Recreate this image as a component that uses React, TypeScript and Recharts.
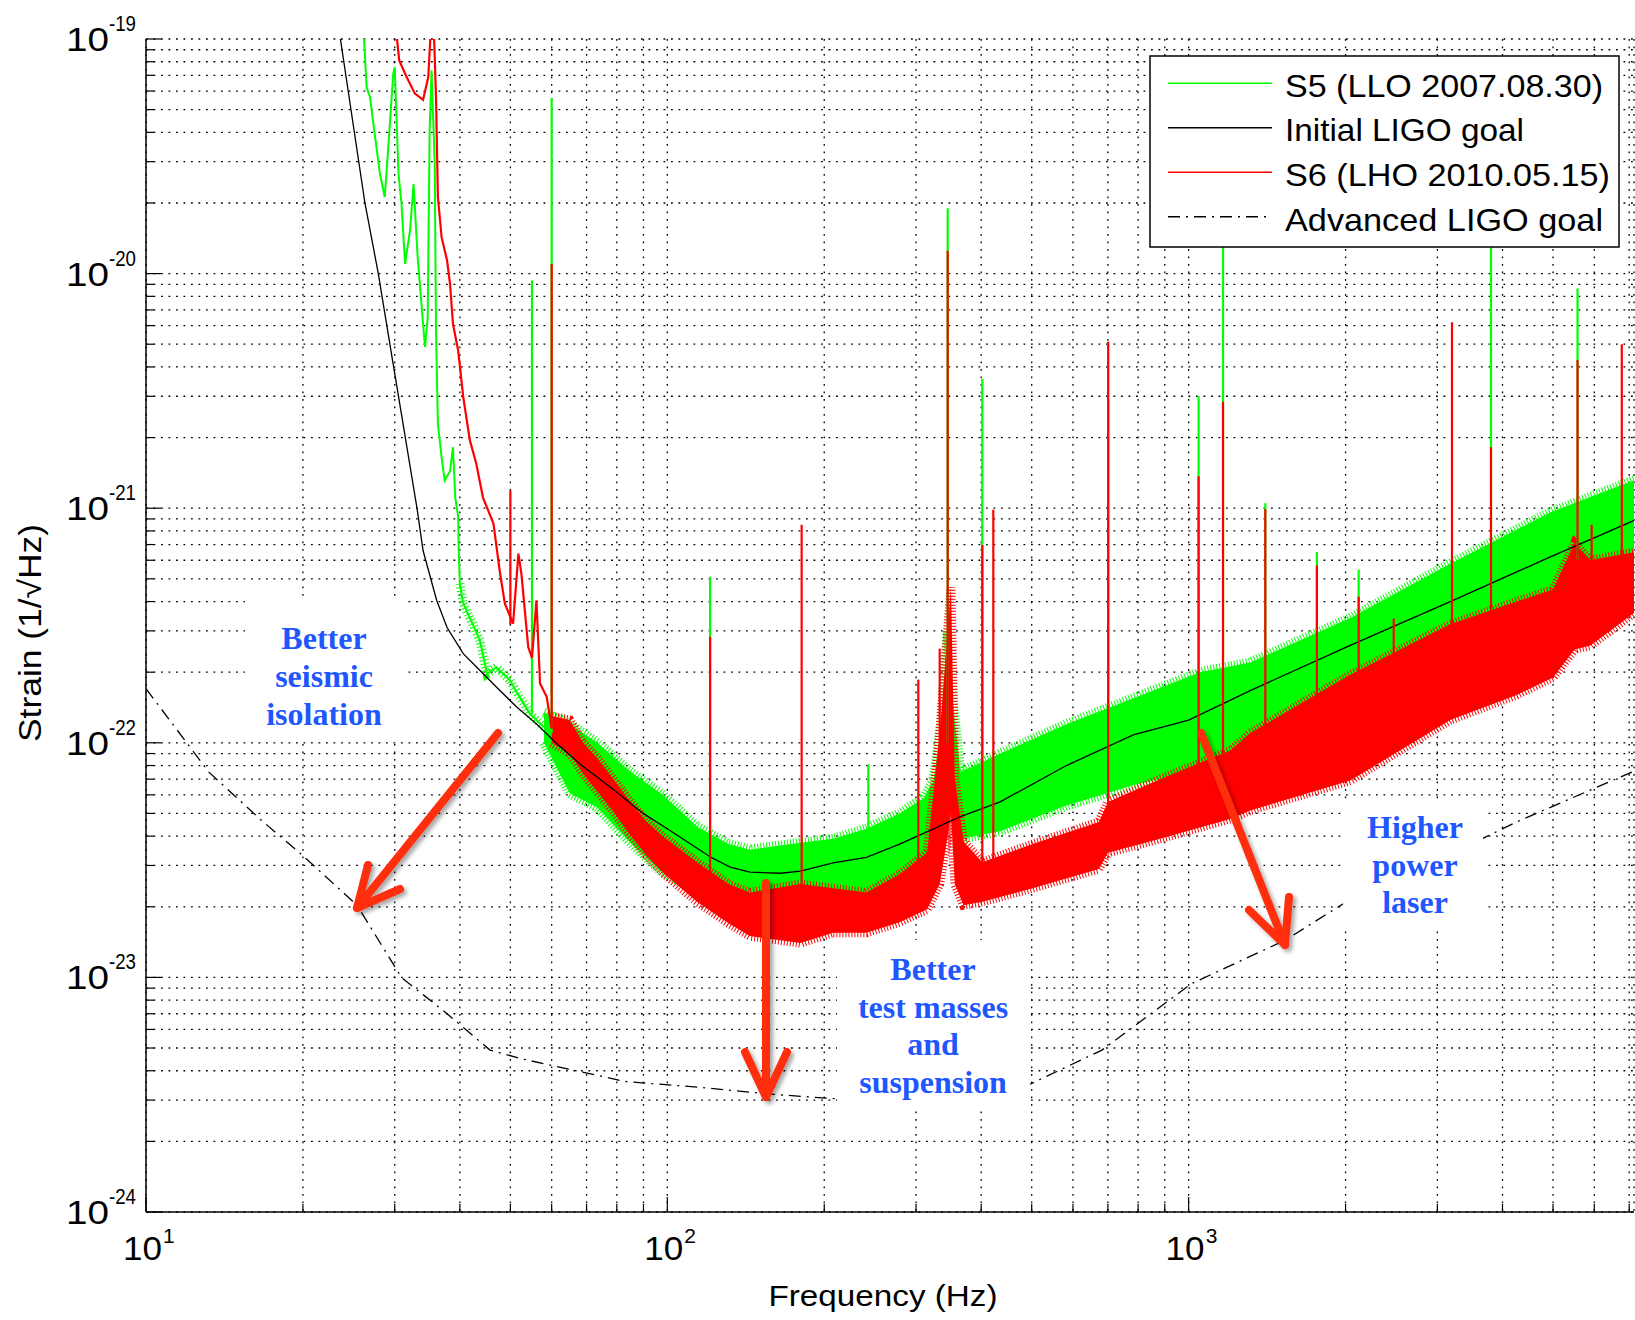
import React from 'react';
import { ComposedChart, Line, Area, XAxis, YAxis, CartesianGrid } from 'recharts';

// axis ticks (major + minor, all get a dotted grid line)
const X_TICKS = [
  10, 20, 30, 40, 50, 60, 70, 80, 90,
  100, 200, 300, 400, 500, 600, 700, 800, 900,
  1000, 2000, 3000, 4000, 5000, 6000, 7000,
];
const Y_TICKS = [
  1e-24, 2e-24, 3e-24, 4e-24, 5e-24, 6e-24, 7e-24, 8e-24, 9e-24,
  1e-23, 2e-23, 3e-23, 4e-23, 5e-23, 6e-23, 7e-23, 8e-23, 9e-23,
  1e-22, 2e-22, 3e-22, 4e-22, 5e-22, 6e-22, 7e-22, 8e-22, 9e-22,
  1e-21, 2e-21, 3e-21, 4e-21, 5e-21, 6e-21, 7e-21, 8e-21, 9e-21,
  1e-20, 2e-20, 3e-20, 4e-20, 5e-20, 6e-20, 7e-20, 8e-20, 9e-20,
  1e-19,
];

// S5 (LLO) - thin low-frequency part [Hz, strain]
const S5_LOW: [number, number][] = [
  [26.2, 1.0e-19], [26.5, 6.2e-20], [26.9, 5.65e-20], [27.3, 4.35e-20], [28.1, 2.67e-20],
  [28.7, 2.12e-20], [29.1, 3.24e-20], [29.8, 7.1e-20], [30.0, 7.6e-20], [30.5, 2.67e-20],
  [30.9, 2.0e-20], [31.4, 1.1e-20], [32.1, 1.53e-20], [32.6, 2.41e-20], [33.2, 1.17e-20],
  [34.0, 6.1e-21], [34.3, 4.86e-21], [34.7, 6.5e-21], [35.0, 4.07e-20], [35.3, 7.35e-20],
  [35.8, 2.94e-20], [36.0, 5.73e-21], [36.3, 2.29e-21], [36.9, 1.65e-21], [37.4, 1.31e-21],
  [38.3, 1.44e-21], [38.8, 1.82e-21], [39.2, 1.11e-21], [39.7, 9.2e-22], [39.8, 6.6e-22],
  [40.0, 4.77e-22], [40.6, 3.93e-22], [42.3, 3.22e-22], [43.7, 2.73e-22], [45.1, 1.97e-22],
  [47.0, 2.1e-22], [49.9, 1.85e-22], [51.6, 1.62e-22], [54.5, 1.33e-22], [57.9, 1.17e-22],
];
// S5 noise band [Hz, low, high]
const S5_BAND: [number, number, number][] = [
  [58, 1.0e-22, 1.35e-22], [65, 6.1e-23, 1.2e-22], [73.4, 5.3e-23, 1.0e-22], [84.5, 3.8e-23, 7.6e-23],
  [98, 2.8e-23, 6.0e-23], [114, 2.35e-23, 4.4e-23], [131, 2.3e-23, 3.7e-23], [144, 2.3e-23, 3.5e-23],
  [180, 2.2e-23, 3.75e-23], [208, 2.1e-23, 3.9e-23], [241, 2.2e-23, 4.3e-23], [279, 2.4e-23, 5.0e-23],
  [310, 2.8e-23, 5.8e-23], [324, 3.3e-23, 6.9e-23], [335, 5.0e-23, 1.2e-22], [345, 8.0e-23, 3.0e-22],
  [353, 6.0e-23, 1.5e-22], [365, 3.9e-23, 7.5e-23], [435, 4.2e-23, 9.0e-23], [583, 5.4e-23, 1.2e-22],
  [783, 6.6e-23, 1.55e-22], [1052, 7.7e-23, 2.0e-22], [1313, 9.9e-23, 2.2e-22], [2042, 1.23e-22, 3.4e-22],
  [3176, 1.92e-22, 5.8e-22], [4942, 2.96e-22, 9.6e-22], [7180, 4.03e-22, 1.32e-21],
];
// S5 lines [Hz, base, peak]
const S5_LINES: [number, number, number][] = [
  [55, 1.33e-22, 9.35e-21], [60, 1.1e-22, 5.6e-20], [120.8, 3.5e-23, 5.1e-22], [243, 3.5e-23, 8.1e-23],
  [345, 1.0e-22, 1.9e-20], [402, 6e-23, 3.55e-21], [701, 9e-23, 2.9e-21], [1045, 1.4e-22, 3.0e-21],
  [1164, 1.5e-22, 1.3e-20], [1403, 1.7e-22, 1.05e-21], [1762, 2.2e-22, 6.5e-22], [2119, 2.6e-22, 5.47e-22],
  [3802, 4.5e-22, 1.3e-20], [5572, 6e-22, 8.65e-21],
];

// S6 (LHO) - thin low-frequency part
const S6_LOW: [number, number][] = [
  [30.3, 1e-19], [30.6, 8.1e-20], [31.6, 6.9e-20], [32.8, 5.85e-20], [34.0, 5.5e-20],
  [34.8, 6.9e-20], [35.1, 1e-19], [35.7, 1e-19], [36.0, 5.65e-20], [36.3, 2.12e-20],
  [36.9, 1.43e-20], [37.8, 1.14e-20], [38.3, 9.05e-21], [38.8, 6.1e-21], [39.7, 4.7e-21],
  [40.6, 2.98e-21], [41.8, 1.95e-21], [43.0, 1.55e-21], [44.3, 1.11e-21], [46.4, 8.6e-22],
  [47.7, 5.4e-22], [48.8, 3.92e-22], [50.6, 3.22e-22], [51.8, 6.4e-22], [52.5, 5.25e-22],
  [54.1, 2.56e-22], [55, 2.3e-22], [56.1, 4.05e-22], [57.0, 1.79e-22], [58.7, 1.57e-22],
  [60, 1.15e-22],
];
const S6_BAND: [number, number, number][] = [
  [60, 1.0e-22, 1.3e-22], [65, 9.0e-23, 1.25e-22], [68.9, 7.4e-23, 1.0e-22], [73.4, 6.2e-23, 8.6e-23],
  [78.8, 5.1e-23, 7.0e-23], [84.5, 4.1e-23, 5.7e-23], [91.3, 3.3e-23, 4.6e-23], [98, 2.8e-23, 4.0e-23],
  [114, 2.1e-23, 3.1e-23], [131, 1.7e-23, 2.5e-23], [144, 1.5e-23, 2.3e-23], [180, 1.4e-23, 2.5e-23],
  [208, 1.55e-23, 2.4e-23], [241, 1.55e-23, 2.3e-23], [279, 1.72e-23, 2.75e-23], [315, 1.95e-23, 3.4e-23],
  [333, 2.5e-23, 1.08e-22], [345, 4.0e-23, 3.0e-22], [350, 5.0e-23, 4.6e-22], [356, 2.5e-23, 7.1e-23],
  [370, 2.03e-23, 3.8e-23], [402, 2.1e-23, 3.1e-23], [502, 2.4e-23, 3.7e-23], [673, 2.9e-23, 4.6e-23],
  [700, 3.4e-23, 5.6e-23], [882, 3.9e-23, 7.0e-23], [1205, 4.75e-23, 9.3e-23], [1313, 5.15e-23, 1.1e-22],
  [2042, 6.9e-23, 1.95e-22], [3176, 1.25e-22, 3.2e-22], [4258, 1.6e-22, 4.0e-22], [5000, 1.9e-22, 4.5e-22],
  [5500, 2.5e-22, 7.1e-22], [5900, 2.6e-22, 6.0e-22], [7180, 3.6e-22, 6.5e-22],
];
const S6_LINES: [number, number, number][] = [
  [50, 3.2e-22, 1.19e-21], [60, 1.15e-22, 1.1e-20], [120.8, 2.6e-23, 2.83e-22], [181, 2.0e-23, 8.5e-22],
  [303, 2.5e-23, 1.86e-22], [333, 5e-23, 2.52e-22], [345, 5e-23, 1.25e-20], [402, 2.8e-23, 6.97e-22],
  [422, 2.8e-23, 9.85e-22], [701, 4.5e-23, 5.12e-21], [1045, 6e-23, 1.37e-21], [1164, 7e-23, 2.84e-21],
  [1403, 8e-23, 9.9e-22], [1762, 1e-22, 5.7e-22], [2119, 1.2e-22, 4.2e-22], [2474, 1.4e-22, 3.38e-22],
  [3200, 2e-22, 6.2e-21], [3802, 2.2e-22, 1.82e-21], [5572, 3.5e-22, 4.28e-21], [5930, 3.5e-22, 8.5e-22],
  [6775, 3.5e-22, 5.0e-21],
];

const INITIAL_GOAL: [number, number][] = [
  [23.6, 1e-19], [26.3, 2e-20], [27.9, 1e-20], [29.8, 4.1e-21], [33.1, 1e-21], [34.0, 6.6e-22],
  [36.1, 4.05e-22], [37.8, 3.1e-22], [40.6, 2.4e-22], [43.1, 2.1e-22], [47, 1.73e-22], [51.4, 1.42e-22],
  [56.2, 1.2e-22], [61.4, 9.9e-23], [69, 7.9e-23], [77.6, 6.5e-23], [89.9, 5.0e-23], [101, 4.24e-23],
  [121, 3.26e-23], [132, 2.95e-23], [144, 2.81e-23], [165, 2.78e-23], [180, 2.84e-23], [208, 3.08e-23],
  [241, 3.25e-23], [279, 3.7e-23], [324, 4.3e-23], [365, 4.85e-23], [435, 5.6e-23], [583, 8.0e-23],
  [783, 1.08e-22], [1000, 1.25e-22], [1313, 1.67e-22], [2042, 2.6e-22], [3176, 4.0e-22],
  [4942, 6.2e-22], [7180, 8.9e-22],
];

const ADVANCED_GOAL: [number, number][] = [
  [10, 1.7e-22], [13.2, 7.5e-23], [16.6, 4.7e-23], [20, 3.3e-23], [25.4, 2.03e-23], [30.9, 1e-23],
  [37.8, 7e-24], [45.7, 4.9e-24], [52.5, 4.5e-24], [83, 3.6e-24], [115.6, 3.4e-24], [155, 3.19e-24],
  [209, 3.04e-24], [498, 3.52e-24], [682, 4.9e-24], [1012, 9.4e-24], [1531, 1.44e-23], [1980, 2.06e-23],
  [3707, 3.96e-23], [4257, 4.6e-23], [7180, 7.6e-23],
];

const LEGEND = [
  { label: 'S5 (LLO 2007.08.30)', color: '#00ff00', dash: undefined, width: 318 },
  { label: 'Initial LIGO goal', color: '#000000', dash: undefined, width: 239 },
  { label: 'S6 (LHO 2010.05.15)', color: '#ff0000', dash: undefined, width: 325 },
  { label: 'Advanced LIGO goal', color: '#000000', dash: '12 6 2 6', width: 318 },
];

const GREEN = '#00ff00';
const RED = '#ff0000';
const SANS = 'Liberation Sans, Arial, Helvetica, sans-serif';
const SERIF = 'Liberation Serif, Times New Roman, serif';
const NOTE = '#1f57ff';
const ARROW = '#ff2d0a';

const pts = (rows: [number, number][]) => rows.map(([f, h]) => ({ f, h }));
const band = (rows: [number, number, number][]) => rows.map(([f, lo, hi]) => ({ f, band: [lo, hi] }));

const isMajor = (v: number) => Math.abs(Math.log10(v) - Math.round(Math.log10(v))) < 1e-6;
const expOf = (v: number) => Math.round(Math.log10(v));

const BottomTick = (props: any) => {
  const { x, y, payload } = props;
  const major = isMajor(payload.value);
  return (
    <g>
      <line x1={x} y1={y} x2={x} y2={y - (major ? 15 : 8)} stroke="#000" strokeWidth={1.2} />
      {major && (
        <>
          <text x={x + 16} y={y + 48} textAnchor="end" fontFamily={SANS} fontSize={33} textLength={39} lengthAdjust="spacingAndGlyphs" fill="#000">10</text>
          <text x={x + 17} y={y + 31} fontFamily={SANS} fontSize={21} fill="#000">{expOf(payload.value)}</text>
        </>
      )}
    </g>
  );
};

const TopTick = (props: any) => {
  const { x, y, payload } = props;
  const major = isMajor(payload.value);
  return <line x1={x} y1={y} x2={x} y2={y + (major ? 15 : 8)} stroke="#000" strokeWidth={1.2} />;
};

const LeftTick = (props: any) => {
  const { x, y, payload } = props;
  const major = isMajor(payload.value);
  return (
    <g>
      <line x1={x} y1={y} x2={x + (major ? 15 : 8)} y2={y} stroke="#000" strokeWidth={1.2} />
      {major && (
        <>
          <text x={x - 37} y={y + 12} textAnchor="end" fontFamily={SANS} fontSize={34} textLength={43} lengthAdjust="spacingAndGlyphs" fill="#000">10</text>
          <text x={x - 37} y={y - 8} fontFamily={SANS} fontSize={22} textLength={27} lengthAdjust="spacingAndGlyphs" fill="#000">{expOf(payload.value)}</text>
        </>
      )}
    </g>
  );
};

const RightTick = (props: any) => {
  const { x, y, payload } = props;
  const major = isMajor(payload.value);
  return <line x1={x} y1={y} x2={x - (major ? 15 : 8)} y2={y} stroke="#000" strokeWidth={1.2} />;
};

const Arrow = ({ from, to, wings }: { from: number[]; to: number[]; wings: number[][] }) => (
  <g stroke={ARROW} strokeWidth={8} strokeLinecap="round" fill="none" filter="url(#shadow)">
    <line x1={from[0]} y1={from[1]} x2={to[0]} y2={to[1]} />
    <polyline points={`${wings[0][0]},${wings[0][1]} ${to[0]},${to[1]} ${wings[1][0]},${wings[1][1]}`} strokeLinejoin="round" />
  </g>
);

const Note = ({ x, lines, y0, step }: { x: number; lines: string[]; y0: number; step: number }) => (
  <text fontFamily={SERIF} fontWeight="bold" fontSize={32} fill={NOTE} textAnchor="middle">
    {lines.map((l, i) => (
      <tspan key={l} x={x} y={y0 + i * step}>{l}</tspan>
    ))}
  </text>
);

export default function App() {
  const s5Noisy = pts(S5_LOW.filter(([f]) => f >= 40));
  return (
    <div style={{ position: 'absolute', left: 0, top: 0, width: 1635, height: 1320, overflow: 'hidden', background: '#fff' }}>
      <ComposedChart width={1635} height={1320} margin={{ top: 39, right: 1, bottom: 0, left: 0 }}>
        <CartesianGrid stroke="#000" strokeWidth={1.3} strokeDasharray="1.8 5.7" />
        <XAxis dataKey="f" type="number" scale="log" domain={[10, 7150]} allowDataOverflow ticks={X_TICKS} interval={0}
          tickSize={0} tickMargin={0} height={108} tickLine={false} tick={<BottomTick />} axisLine={{ stroke: '#000', strokeWidth: 1.5 }} />
        <XAxis xAxisId="top" orientation="top" dataKey="f" type="number" scale="log" domain={[10, 7150]} allowDataOverflow
          ticks={X_TICKS} interval={0} tickSize={0} tickMargin={0} height={0} tickLine={false} tick={<TopTick />} axisLine={{ stroke: '#000', strokeWidth: 1.5 }} />
        <YAxis type="number" scale="log" domain={[1e-24, 1e-19]} allowDataOverflow ticks={Y_TICKS} interval={0}
          tickSize={0} tickMargin={0} width={146} tickLine={false} tick={<LeftTick />} axisLine={{ stroke: '#000', strokeWidth: 1.5 }} />
        <YAxis yAxisId="right" orientation="right" type="number" scale="log" domain={[1e-24, 1e-19]} allowDataOverflow ticks={Y_TICKS}
          interval={0} tickSize={0} tickMargin={0} width={0} tickLine={false} tick={<RightTick />} axisLine={{ stroke: '#000', strokeWidth: 1.5 }} />

        {/* noisy band edges: short dashes on a wide stroke give the whiskers */}
        <Area data={band(S5_BAND)} dataKey="band" type="linear" stroke={GREEN} strokeWidth={10} strokeDasharray="1 2"
          fill={GREEN} fillOpacity={1} isAnimationActive={false} />
        <Line data={pts(S5_LOW)} dataKey="h" type="linear" stroke={GREEN} strokeWidth={2} dot={false} isAnimationActive={false} />
        <Line data={s5Noisy} dataKey="h" type="linear" stroke={GREEN} strokeWidth={9} strokeDasharray="1 2.5" dot={false} isAnimationActive={false} />
        {S5_LINES.map(([f, base, peak]) => (
          <Line key={`g${f}`} data={[{ f, h: base }, { f, h: peak }]} dataKey="h" stroke={GREEN} strokeWidth={2.2} dot={false} isAnimationActive={false} />
        ))}
        <Line data={pts(INITIAL_GOAL)} dataKey="h" type="linear" stroke="#000" strokeWidth={1.3} dot={false} isAnimationActive={false} />
        <Area data={band(S6_BAND)} dataKey="band" type="linear" stroke={RED} strokeWidth={9} strokeDasharray="1 2"
          fill={RED} fillOpacity={1} isAnimationActive={false} />
        <Line data={pts(S6_LOW)} dataKey="h" type="linear" stroke={RED} strokeWidth={2.2} dot={false} isAnimationActive={false} />
        {S6_LINES.map(([f, base, peak]) => (
          <Line key={`r${f}`} data={[{ f, h: base }, { f, h: peak }]} dataKey="h" stroke={RED} strokeWidth={2.2} dot={false} isAnimationActive={false} />
        ))}
        <Line data={pts(ADVANCED_GOAL)} dataKey="h" type="linear" stroke="#000" strokeWidth={1.3} strokeDasharray="12 6 2 6" dot={false} isAnimationActive={false} />
      </ComposedChart>

      <svg width={1635} height={1320} style={{ position: 'absolute', left: 0, top: 0, pointerEvents: 'none' }}>
        <defs>
          <filter id="shadow" x="-20%" y="-20%" width="140%" height="140%">
            <feDropShadow dx="3" dy="3" stdDeviation="2" floodColor="#000" floodOpacity="0.35" />
          </filter>
        </defs>

        {/* legend */}
        <rect x={1150} y={56} width={469} height={191} fill="#fff" stroke="#000" strokeWidth={1.5} />
        {LEGEND.map((e, i) => (
          <g key={e.label}>
            <line x1={1168} x2={1272} y1={83.3 + i * 44.5} y2={83.3 + i * 44.5} stroke={e.color} strokeWidth={1.5} strokeDasharray={e.dash} />
            <text x={1285} y={96.7 + i * 44.7} fontFamily={SANS} fontSize={32} textLength={e.width} lengthAdjust="spacingAndGlyphs" fill="#000">{e.label}</text>
          </g>
        ))}

        {/* axis titles */}
        <text x={883} y={1306} textAnchor="middle" fontFamily={SANS} fontSize={30} textLength={229} lengthAdjust="spacingAndGlyphs" fill="#000">Frequency (Hz)</text>
        <text transform="translate(41,633) rotate(-90)" textAnchor="middle" fontFamily={SANS} fontSize={31} textLength={218} lengthAdjust="spacingAndGlyphs" fill="#000">Strain (1/√Hz)</text>

        {/* annotations */}
        <rect x={245} y={600} width={158} height={142} fill="#fff" />
        <Note x={324} y0={649} step={38} lines={['Better', 'seismic', 'isolation']} />
        <rect x={837} y={940} width={193} height={170} fill="#fff" />
        <Note x={933} y0={980} step={37.5} lines={['Better', 'test masses', 'and', 'suspension']} />
        <rect x={1343} y={800} width={140} height={130} fill="#fff" />
        <Note x={1415} y0={838} step={37.5} lines={['Higher', 'power', 'laser']} />

        <Arrow from={[498, 733]} to={[357, 908]} wings={[[368, 865], [400, 889]]} />
        <Arrow from={[766, 883]} to={[766, 1097]} wings={[[745, 1052], [787, 1052]]} />
        <Arrow from={[1201, 733]} to={[1285, 945]} wings={[[1249, 910], [1289, 897]]} />
      </svg>
    </div>
  );
}
